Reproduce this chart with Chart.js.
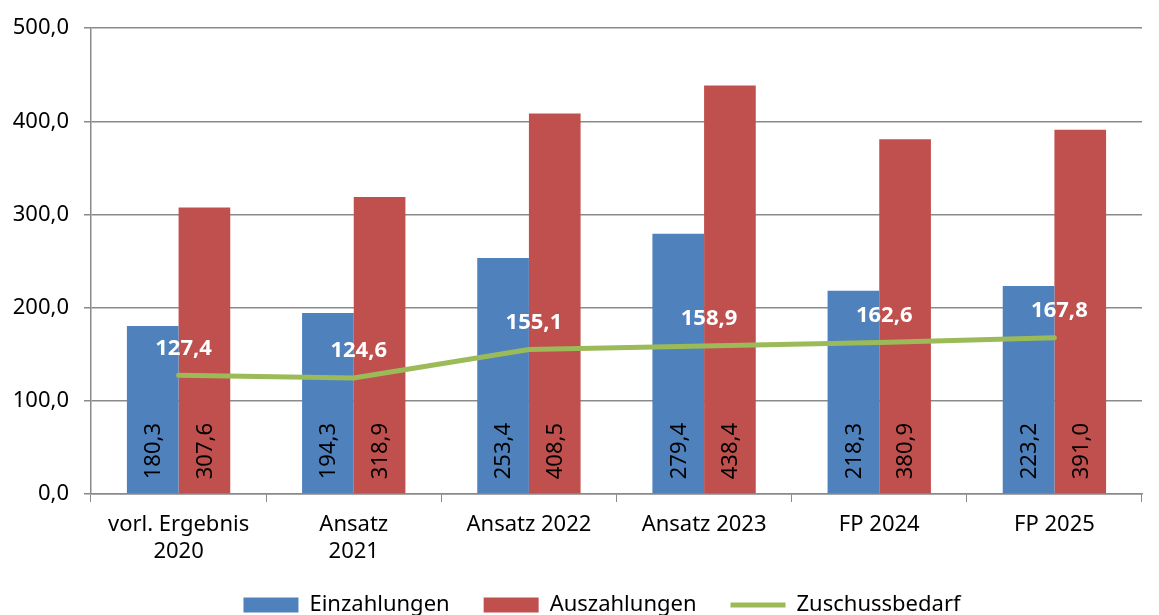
<!DOCTYPE html>
<html>
<head>
<meta charset="utf-8">
<script src="https://cdn.jsdelivr.net/npm/chart.js@4"></script>
<style>
  html, body { margin: 0; padding: 0; overflow: hidden; background: #fff; }
  #wrap { width: 1159px; height: 626px; }
</style>
</head>
<body>
<div id="wrap"><canvas id="myChart"></canvas></div>
<script>
var categories = [["vorl. Ergebnis", "2020"], ["Ansatz", "2021"], "Ansatz 2022", "Ansatz 2023", "FP 2024", "FP 2025"];
var einzahlungen = [180.3, 194.3, 253.4, 279.4, 218.3, 223.2];
var auszahlungen = [307.6, 318.9, 408.5, 438.4, 380.9, 391.0];
var zuschussbedarf = [127.4, 124.6, 155.1, 158.9, 162.6, 167.8];
var yTicks = [0, 100, 200, 300, 400, 500];

function fmt(v) {
    return v.toFixed(1).replace(".", ",");
}

var FONT = "'Noto Sans', sans-serif";

var labelPlugin = {
    id: "valueLabels",
    afterLayout: function(chart) {
        // legend sits a bit right of centre in the original
        if (chart.legend) {
            chart.legend.left += 31;
            chart.legend.right += 31;
        }
    },
    afterDatasetsDraw: function(chart) {
        var ctx = chart.ctx;
        ctx.save();
        [0, 1].forEach(function(di) {
            var meta = chart.getDatasetMeta(di);
            meta.data.forEach(function(el, i) {
                ctx.save();
                ctx.translate(el.x, el.base - 14);
                ctx.rotate(-Math.PI / 2);
                ctx.font = "22px " + FONT;
                ctx.fillStyle = "#000";
                ctx.textAlign = "left";
                ctx.textBaseline = "middle";
                ctx.fillText(fmt(chart.data.datasets[di].data[i]), 0, 1);
                ctx.restore();
            });
        });
        var lm = chart.getDatasetMeta(2);
        lm.data.forEach(function(el, i) {
            ctx.font = "bold 22px " + FONT;
            ctx.fillStyle = "#fff";
            ctx.textAlign = "center";
            ctx.textBaseline = "middle";
            ctx.fillText(fmt(zuschussbedarf[i]), el.x + 5, el.y - 27);
        });
        ctx.restore();
    }
};

var ctx = document.getElementById("myChart").getContext("2d");
var myChart = new Chart(ctx, {
    type: "bar",
    data: {
        labels: categories,
        datasets: [
            { label: "Einzahlungen", data: einzahlungen, backgroundColor: "#4f81bd",
              categoryPercentage: 0.59, barPercentage: 1, order: 1, pointStyle: "rect" },
            { label: "Auszahlungen", data: auszahlungen, backgroundColor: "#c0504d",
              categoryPercentage: 0.59, barPercentage: 1, order: 1, pointStyle: "rect" },
            { type: "line", label: "Zuschussbedarf", data: zuschussbedarf, borderColor: "#9bbb59",
              backgroundColor: "#9bbb59", borderWidth: 5, borderCapStyle: "round",
              pointRadius: 0, pointStyle: "line", tension: 0, order: 0 }
        ]
    },
    options: {
        responsive: true,
        maintainAspectRatio: false,
        animation: false,
        layout: { padding: { top: 27, right: 17, left: 0, bottom: 0 } },
        plugins: {
            tooltip: { enabled: false },
            legend: {
                position: "bottom",
                labels: {
                    usePointStyle: true,
                    pointStyleWidth: 55,
                    boxWidth: 55,
                    boxHeight: 15,
                    padding: 34,
                    color: "#000",
                    font: { family: FONT, size: 22 },
                    sort: function(a, b) { return a.datasetIndex - b.datasetIndex; }
                }
            }
        },
        scales: {
            x: {
                afterFit: function(axis) { axis.height = 66; },
                grid: { drawOnChartArea: false, color: "#8a8a8a", tickLength: 8, offset: true },
                border: { color: "#8a8a8a", width: 1.5 },
                ticks: { color: "#000", font: { family: FONT, size: 22 }, padding: 10, maxRotation: 0 }
            },
            y: {
                min: 0,
                max: 500,
                afterFit: function(axis) { axis.width = 91; },
                afterBuildTicks: function(axis) {
                    axis.ticks = yTicks.map(function(v) { return { value: v }; });
                },
                grid: { color: "#8a8a8a", tickLength: 7, lineWidth: 1.5 },
                border: { color: "#8a8a8a", width: 1.5 },
                ticks: {
                    color: "#000",
                    padding: 15,
                    font: { family: FONT, size: 22 },
                    callback: function(v) { return fmt(v); }
                }
            }
        }
    },
    plugins: [labelPlugin]
});
</script>
</body>
</html>
